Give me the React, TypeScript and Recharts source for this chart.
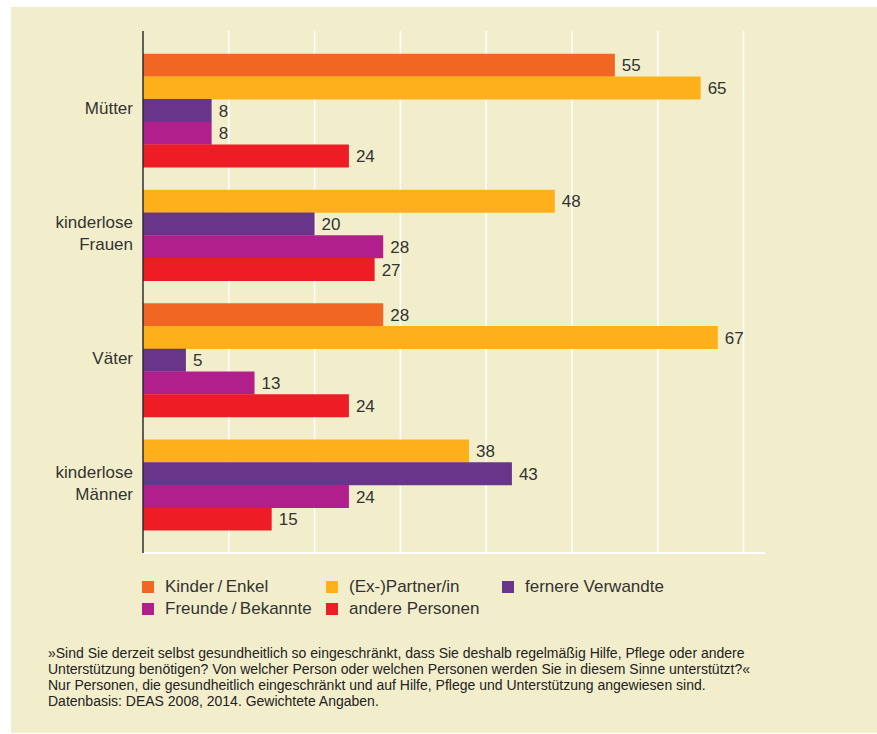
import { Bar, BarChart, CartesianGrid, Cell, LabelList, XAxis, YAxis } from "recharts";

const groups = ["Mütter", "kinderlose\nFrauen", "Väter", "kinderlose\nMänner"];
const seriesNames = [
  "Kinder\u2009/\u2009Enkel",
  "(Ex-)Partner/in",
  "fernere Verwandte",
  "Freunde\u2009/\u2009Bekannte",
  "andere Personen"
];
const seriesColors = ["#f26624", "#fdb019", "#68358b", "#b01f8c", "#ee1c25"];

// one value per group, null where the group has no such bar
const kinderEnkel = [55, null, 28, null];
const partner = [65, 48, 67, 38];
const verwandte = [8, 20, 5, 43];
const freunde = [8, 28, 13, 24];
const andere = [24, 27, 24, 15];
const seriesValues = [kinderEnkel, partner, verwandte, freunde, andere];

const xTicks = [0, 10, 20, 30, 40, 50, 60, 70];
const X_MAX = 72.5;

const notes = [
  "»Sind Sie derzeit selbst gesundheitlich so eingeschränkt, dass Sie deshalb regelmäßig Hilfe, Pflege oder andere",
  "Unterstützung benötigen? Von welcher Person oder welchen Personen werden Sie in diesem Sinne unterstützt?«",
  "Nur Personen, die gesundheitlich eingeschränkt und auf Hilfe, Pflege und Unterstützung angewiesen sind.",
  "Datenbasis: DEAS 2008, 2014. Gewichtete Angaben."
];

type Row = { key: string; group?: number; series?: number; value?: number };

const rows: Row[] = [{ key: "gap0" }];
groups.forEach((_, gi) => {
  seriesValues.forEach((vals, si) => {
    const v = vals[gi];
    if (v != null) rows.push({ key: `${gi}-${si}`, group: gi, series: si, value: v });
  });
  rows.push({ key: `gap${gi + 1}` });
});

const FONT = "'Liberation Sans', Arial, sans-serif";
const TEXT = "#333";
const TOP = 31;
const PLOT_H = 522;
const ROW_H = PLOT_H / rows.length;

function GroupTick(props: any) {
  const { y, payload } = props;
  const idx = rows.findIndex((r) => r.key === payload.value);
  const row = rows[idx];
  if (!row || row.group == null) return null;
  if (idx > 0 && rows[idx - 1].group === row.group) return null;
  const n = rows.filter((r) => r.group === row.group).length;
  const centre = y + ((n - 1) / 2) * ROW_H - 2;
  const lines = groups[row.group].split("\n");
  return (
    <g>
      {lines.map((line, i) => (
        <text
          key={line}
          x={133}
          y={centre + (i - (lines.length - 1) / 2) * 22}
          dy="0.35em"
          textAnchor="end"
          fontSize={17}
          fontFamily={FONT}
          fill={TEXT}
        >
          {line}
        </text>
      ))}
    </g>
  );
}

function ValueLabel(props: any) {
  const { x, y, width, height, value } = props;
  if (value == null) return null;
  return (
    <text
      x={x + width + 7}
      y={y + height / 2}
      dy="0.36em"
      fontSize={17}
      fontFamily={FONT}
      fill={TEXT}
    >
      {value}
    </text>
  );
}

// grid lines only at the tick values, not at the end of the domain
const gridX = ({ offset }: any) =>
  xTicks.map((t) => offset.left + (t / X_MAX) * offset.width);

export default function App() {
  return (
    <div style={{ position: "absolute", left: 0, top: 0, width: 877, height: 734, background: "#fff" }}>
      <div style={{ position: "absolute", left: 11, top: 7, right: 0, bottom: 1, background: "#f2eecb" }} />
      <div style={{ position: "absolute", left: 0, top: 0 }}>
        <BarChart
          width={877}
          height={560}
          layout="vertical"
          data={rows}
          barCategoryGap={0}
          margin={{ top: TOP, right: 112, bottom: 6, left: 0 }}
        >
          <CartesianGrid
            horizontal={false}
            stroke="#ffffff"
            strokeWidth={1.5}
            verticalCoordinatesGenerator={gridX}
          />
          <XAxis
            type="number"
            domain={[0, X_MAX]}
            ticks={xTicks}
            tick={false}
            tickLine={false}
            axisLine={{ stroke: "#ffffff", strokeWidth: 2 }}
            height={1}
          />
          <YAxis
            type="category"
            dataKey="key"
            width={143}
            interval={0}
            tickLine={false}
            axisLine={{ stroke: "#2a2a2a", strokeWidth: 1.5 }}
            tick={<GroupTick />}
          />
          <Bar dataKey="value" isAnimationActive={false}>
            {rows.map((r) => (
              <Cell key={r.key} fill={r.series != null ? seriesColors[r.series] : "none"} />
            ))}
            <LabelList dataKey="value" content={<ValueLabel />} />
          </Bar>
        </BarChart>
      </div>
      <div
        style={{
          position: "absolute",
          left: 142,
          top: 576,
          display: "grid",
          gridTemplateColumns: "184px 176px 200px",
          rowGap: 0,
          fontFamily: FONT,
          fontSize: 17,
          color: TEXT
        }}
      >
        {seriesNames.map((name, i) => (
          <div key={name} style={{ display: "flex", alignItems: "center", height: 22, whiteSpace: "nowrap" }}>
            <span style={{ width: 12, height: 12, background: seriesColors[i], marginRight: 11, flex: "none" }} />
            {name}
          </div>
        ))}
      </div>
      <div
        style={{
          position: "absolute",
          left: 48,
          top: 645,
          fontFamily: FONT,
          fontSize: 14,
          lineHeight: "16px",
          color: "#222"
        }}
      >
        {notes.map((line) => (
          <div key={line} style={{ whiteSpace: "nowrap" }}>
            {line}
          </div>
        ))}
      </div>
    </div>
  );
}
